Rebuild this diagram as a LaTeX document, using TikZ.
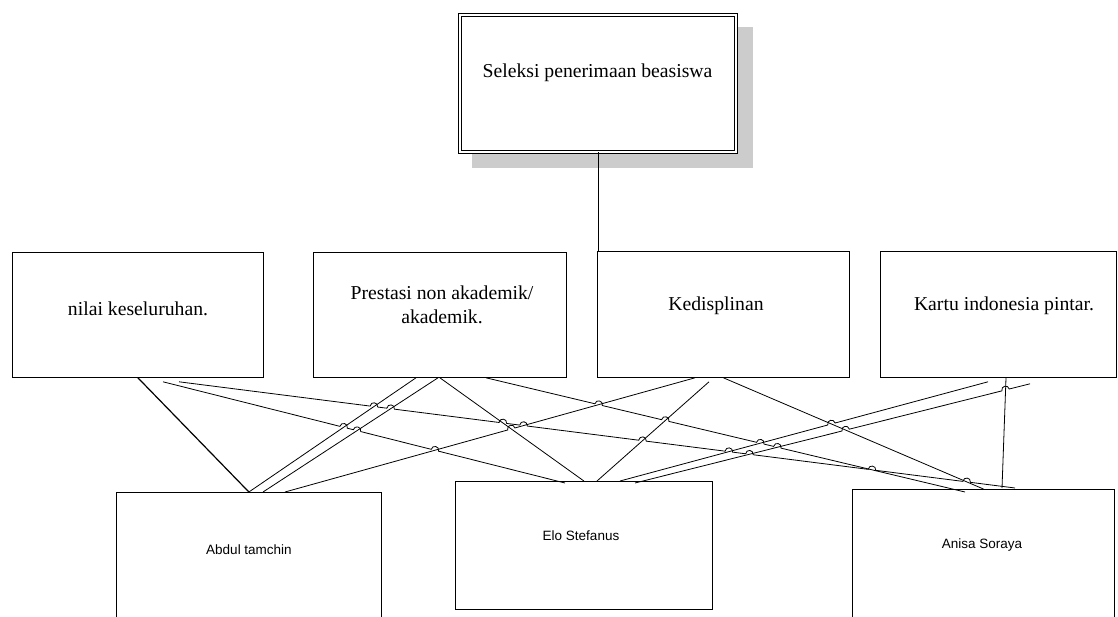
\documentclass[tikz,border=0pt]{standalone}
\usepackage{fontspec}
\setmainfont{Liberation Serif}
\newfontfamily\arialf{Liberation Sans}
\usetikzlibrary{calc,intersections}
\def\hr{3.8pt}
\def\hk{5.07pt}
\newcommand\hopline[3]{%
  \foreach \h in {#3}{%
    \coordinate (\h-s) at ($(\h)!\hr!(#1)$);
    \coordinate (\h-e) at ($(\h)!\hr!(#2)$);
    \coordinate (\h-c) at ($(\h-s)!\hk!90:(\h)$);
    \coordinate (\h-d) at ($(\h-e)!\hk!-90:(\h)$);
  }
  \draw[conn] (#1) \foreach \h in {#3}{ -- (\h-s) .. controls (\h-c) and (\h-d) .. (\h-e)} -- (#2);
}
\begin{document}
\begin{tikzpicture}[x=1pt,y=-1pt,
  box/.style={draw, line width=0.8pt, fill=white, inner sep=0pt, anchor=north west},
  topbox/.style={draw, line width=0.8pt, double, double distance=2.4pt, fill=white, inner sep=0pt, anchor=north west},
  conn/.style={line width=0.8pt},
  crit/.style={font=\fontsize{19.7}{24}\selectfont, align=center, inner sep=0pt},
  stud/.style={font=\arialf\fontsize{13.5}{16}\selectfont, inner sep=0pt}]
\useasboundingbox (0,0) rectangle (1118,617);
\clip (0,0) rectangle (1118,617);

% top box with shadow
\fill[black!20] (472,27) rectangle (753,168);
\node[topbox, minimum width=276pt, minimum height=137pt] (top) at (459.5,14.5) {};
\node[crit] (toptxt) at (597.5,73) {Seleksi penerimaan beasiswa};

% criteria boxes
\node[box, minimum width=251pt, minimum height=125pt] (b1) at (12,252) {};
\node[box, minimum width=253pt, minimum height=125pt] (b2) at (313,252) {};
\node[box, minimum width=252pt, minimum height=126pt] (b3) at (597,251) {};
\node[box, minimum width=236pt, minimum height=126pt] (b4) at (880,251) {};
\node[crit] (t1) at (138,309) {nilai keseluruhan.};
\node[crit] (t2) at (442,305) {Prestasi non akademik/\\akademik.};
\node[crit] (t3) at (716,306) {Kedisplinan};
\node[crit] (t4) at (1004,306) {Kartu indonesia pintar.};

\draw[conn] (top.south) -- (top.south |- b3.north);

% student boxes
\node[box, minimum width=265pt, minimum height=140pt] (sA) at (116,492) {};
\node[box, minimum width=257pt, minimum height=128pt] (sB) at (455,481) {};
\node[box, minimum width=262pt, minimum height=140pt] (sC) at (852,489) {};
\node[stud] (tA) at (249,550) {Abdul tamchin};
\node[stud] (tB) at (581,536) {Elo Stefanus};
\node[stud] (tC) at (982,545) {Anisa Soraya};

% connector end points
\coordinate (L1a) at (b1.south);
\coordinate (L1b) at (sA.north);
\coordinate (L2a) at ($(b1.south west)+(151,4)$);
\coordinate (L2b) at ($(sB.north west)+(110,2)$);
\coordinate (L3a) at ($(b1.south west)+(167,4)$);
\coordinate (L3b) at ($(sC.north west)+(163,-1)$);
\coordinate (L4a) at (b2.south);
\coordinate (L4b) at (sB.north);
\coordinate (L5a) at ($(b2.south west)+(173,0)$);
\coordinate (L5b) at ($(sC.north west)+(113,3)$);
\coordinate (L6a) at ($(sA.north west)+(147,0)$);
\coordinate (L6b) at ($(b2.south west)+(125,0)$);
\coordinate (L7a) at (sA.north);
\coordinate (L7b) at ($(b2.south west)+(103,0)$);
\coordinate (L8a) at ($(sA.north west)+(169,0)$);
\coordinate (L8b) at ($(b3.south west)+(98,0)$);
\coordinate (L9a) at ($(sB.north west)+(142,0)$);
\coordinate (L9b) at ($(b3.south west)+(112,4)$);
\coordinate (L10a) at ($(sB.north west)+(165,0)$);
\coordinate (L10b) at ($(b4.south west)+(108,4)$);
\coordinate (L11a) at ($(sB.north west)+(180,2)$);
\coordinate (L11b) at ($(b4.south west)+(150,6)$);
\coordinate (L12a) at (b3.south);
\coordinate (L12b) at (sC.north);
\coordinate (L13a) at ($(b4.south west)+(126,0)$);
\coordinate (L13b) at ($(sC.north west)+(150,-1)$);

\foreach \i in {2,3,4,5,6,7,8,9,10,11,12,13}{
  \path[name path global=p\i] (L\i a) -- (L\i b);
}

% crossings where a hop is drawn
\path[name intersections={of=p3 and p7, by=h37}];
\path[name intersections={of=p3 and p6, by=h36}];
\path[name intersections={of=p3 and p4, by=h34}];
\path[name intersections={of=p3 and p8, by=h38}];
\path[name intersections={of=p3 and p9, by=h39}];
\path[name intersections={of=p3 and p10, by=h3a}];
\path[name intersections={of=p3 and p11, by=h3b}];
\path[name intersections={of=p3 and p5, by=h35}];
\path[name intersections={of=p3 and p12, by=h3c}];
\path[name intersections={of=p2 and p7, by=h27}];
\path[name intersections={of=p2 and p6, by=h26}];
\path[name intersections={of=p2 and p8, by=h28}];
\path[name intersections={of=p5 and p8, by=h58}];
\path[name intersections={of=p5 and p9, by=h59}];
\path[name intersections={of=p5 and p10, by=h5a}];
\path[name intersections={of=p5 and p11, by=h5b}];
\path[name intersections={of=p8 and p4, by=h84}];
\path[name intersections={of=p10 and p12, by=hac}];
\path[name intersections={of=p11 and p12, by=hbc}];
\path[name intersections={of=p11 and p13, by=hbd}];

% straight connectors
\draw[conn, line width=1.2pt] (L1a) -- (L1b);
\draw[conn] (L4a) -- (L4b);
\draw[conn] (L6a) -- (L6b);
\draw[conn] (L7a) -- (L7b);
\draw[conn] (L9a) -- (L9b);
\draw[conn] (L12a) -- (L12b);
\draw[conn] (L13a) -- (L13b);

% connectors with line jumps
\hopline{L2a}{L2b}{h27,h26,h28}
\hopline{L3a}{L3b}{h37,h36,h34,h38,h39,h3a,h3b,h35,h3c}
\hopline{L5a}{L5b}{h58,h59,h5a,h5b}
\hopline{L8a}{L8b}{h84}
\hopline{L10a}{L10b}{hac}
\hopline{L11a}{L11b}{hbc,hbd}
\end{tikzpicture}
\end{document}
